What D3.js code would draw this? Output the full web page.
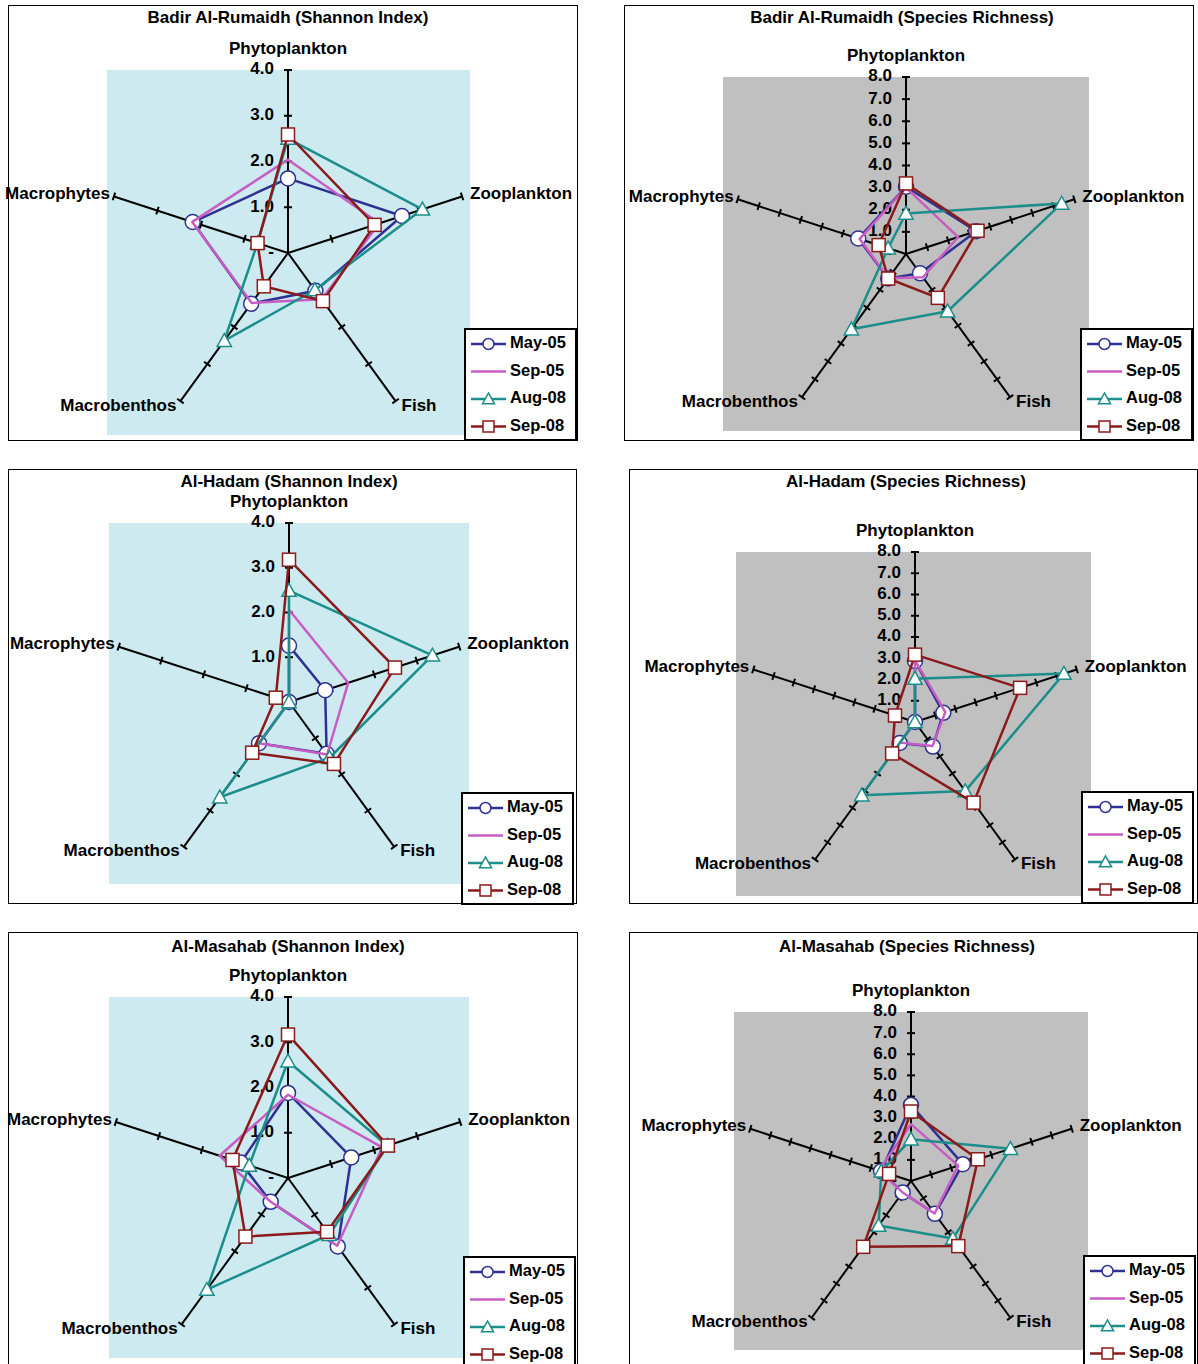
<!DOCTYPE html>
<html>
<head>
<meta charset="utf-8">
<script src="https://cdn.jsdelivr.net/npm/d3@7"></script>
<style>
  body { margin: 0; background: #fff; }
  svg text { font-family: "Liberation Sans", Arial, sans-serif; font-weight: bold; fill: #000; }
</style>
</head>
<body>
<div id="chart"></div>
<script>
// categories go clockwise from the top
var categories = ["Phytoplankton", "Zooplankton", "Fish", "Macrobenthos", "Macrophytes"];
var seriesNames = ["May-05", "Sep-05", "Aug-08", "Sep-08"];

// values per series, in category order
var badirShannon = [
  [1.63, 2.62, 1.02, 1.37, 2.19],
  [2.04, 2.10, 1.25, 1.35, 2.20],
  [2.50, 3.09, 1.00, 2.37, 0.70],
  [2.59, 1.99, 1.30, 0.90, 0.70]
];
var badirRichness = [
  [3.04, 3.34, 1.08, 1.37, 2.27],
  [3.00, 2.48, 1.30, 1.35, 2.20],
  [1.83, 7.40, 3.20, 4.20, 0.85],
  [3.19, 3.40, 2.45, 1.37, 1.30]
];
var hadamShannon = [
  [1.26, 0.85, 1.43, 1.14, 0.00],
  [2.06, 1.39, 1.45, 1.14, 0.00],
  [2.49, 3.37, 1.54, 2.63, 0.00],
  [3.18, 2.49, 1.71, 1.40, 0.31]
];
var hadamRichness = [
  [2.87, 1.40, 1.43, 1.22, 0.00],
  [2.90, 1.50, 1.40, 1.20, 0.00],
  [2.04, 7.37, 4.02, 4.26, 0.00],
  [3.17, 5.20, 4.69, 1.83, 0.99]
];
var masahabShannon = [
  [1.88, 1.47, 1.87, 0.65, 1.10],
  [1.84, 2.19, 1.85, 0.65, 1.59],
  [2.58, 2.31, 1.55, 3.05, 0.90],
  [3.17, 2.32, 1.47, 1.60, 1.29]
];
var masahabRichness = [
  [3.60, 2.58, 1.92, 0.67, 1.49],
  [2.69, 2.35, 1.90, 0.67, 1.60],
  [1.98, 4.95, 3.37, 2.61, 1.48],
  [3.29, 3.33, 3.81, 3.85, 1.09]
];

var shannonTicks = [0, 1, 2, 3, 4];
var richnessTicks = [0, 1, 2, 3, 4, 5, 6, 7, 8];

var colors = ["#2E3192", "#C75DC3", "#1B8E8A", "#8B1A1A"];
var markers = ["circle", null, "triangle", "square"];

// panel layout
var panels = [
  {title: "Badir Al-Rumaidh (Shannon Index)", data: badirShannon, ticks: shannonTicks, bg: "#CCEAF0",
   frame: [8, 5, 569, 435], cx: 288, cy: 253, r: 183, plot: [107, 70, 363, 365], legend: [464, 328], titleX: 288, titleY: 19},
  {title: "Badir Al-Rumaidh (Species Richness)", data: badirRichness, ticks: richnessTicks, bg: "#C0C0C0",
   frame: [624, 5, 569, 435], cx: 906, cy: 254, r: 177, plot: [723, 77, 366, 354], legend: [1080, 328], titleX: 902, titleY: 19},
  {title: "Al-Hadam (Shannon Index)", data: hadamShannon, ticks: shannonTicks, bg: "#CCEAF0",
   frame: [8, 469, 568, 434], cx: 289, cy: 702, r: 179, plot: [109, 523, 360, 361], legend: [461, 792], titleX: 289, titleY: 483},
  {title: "Al-Hadam (Species Richness)", data: hadamRichness, ticks: richnessTicks, bg: "#C0C0C0",
   frame: [629, 469, 568, 434], cx: 915, cy: 722, r: 170, plot: [736, 552, 355, 344], legend: [1081, 791], titleX: 906, titleY: 483},
  {title: "Al-Masahab (Shannon Index)", data: masahabShannon, ticks: shannonTicks, bg: "#CCEAF0",
   frame: [8, 932, 569, 440], cx: 288, cy: 1178, r: 181, plot: [109, 997, 360, 361], legend: [463, 1256], titleX: 288, titleY: 948},
  {title: "Al-Masahab (Species Richness)", data: masahabRichness, ticks: richnessTicks, bg: "#C0C0C0",
   frame: [629, 932, 568, 440], cx: 911, cy: 1181, r: 169, plot: [734, 1012, 354, 338], legend: [1083, 1255], titleX: 907, titleY: 948}
];

var svg = d3.select("#chart").append("svg")
    .attr("width", 1198)
    .attr("height", 1364);

var fmt = d3.format(".1f");

function drawMarker(g, type, x, y, color, size) {
  if (type === "circle") {
    g.append("circle").attr("cx", x).attr("cy", y).attr("r", size)
      .attr("fill", "#fff").attr("stroke", color).attr("stroke-width", 1.5);
  } else if (type === "square") {
    g.append("rect").attr("x", x - size).attr("y", y - size)
      .attr("width", size * 2).attr("height", size * 2)
      .attr("fill", "#fff").attr("stroke", color).attr("stroke-width", 1.5);
  } else if (type === "triangle") {
    var s = size * 1.1;
    g.append("path")
      .attr("d", "M" + x + "," + (y - s) + "L" + (x + s) + "," + (y + s * 0.8) + "L" + (x - s) + "," + (y + s * 0.8) + "Z")
      .attr("fill", "#fff").attr("stroke", color).attr("stroke-width", 1.5);
  }
}

panels.forEach(function(p) {
  var g = svg.append("g");
  var maxV = d3.max(p.ticks);

  var rScale = d3.scaleLinear().domain([0, maxV]).range([0, p.r]);
  var angle = d3.scaleLinear().domain([0, categories.length]).range([0, 2 * Math.PI]);

  function pt(i, v) {
    var a = angle(i);
    return [p.cx + rScale(v) * Math.sin(a), p.cy - rScale(v) * Math.cos(a)];
  }

  // frame
  g.append("rect")
    .attr("x", p.frame[0] + 0.5).attr("y", p.frame[1] + 0.5)
    .attr("width", p.frame[2]).attr("height", p.frame[3])
    .attr("fill", "#fff").attr("stroke", "#000").attr("stroke-width", 1);

  // plot area
  g.append("rect")
    .attr("x", p.plot[0]).attr("y", p.plot[1])
    .attr("width", p.plot[2]).attr("height", p.plot[3])
    .attr("fill", p.bg);

  g.append("text")
    .attr("x", p.titleX).attr("y", p.titleY)
    .attr("text-anchor", "middle").attr("dominant-baseline", "middle")
    .style("font-size", "17px")
    .text(p.title);

  // spokes and ticks
  categories.forEach(function(c, i) {
    var end = pt(i, maxV);
    g.append("line")
      .attr("x1", p.cx).attr("y1", p.cy).attr("x2", end[0]).attr("y2", end[1])
      .attr("stroke", "#000").attr("stroke-width", 2);
    var a = angle(i);
    var px = Math.cos(a) * 4, py = Math.sin(a) * 4;
    p.ticks.filter(function(t) { return t > 0; }).forEach(function(t) {
      var q = pt(i, t);
      g.append("line")
        .attr("x1", q[0] - px).attr("y1", q[1] - py)
        .attr("x2", q[0] + px).attr("y2", q[1] + py)
        .attr("stroke", "#000").attr("stroke-width", 2);
    });
  });

  // value labels on the top spoke
  p.ticks.forEach(function(t) {
    g.append("text")
      .attr("x", p.cx - 14).attr("y", p.cy - rScale(t))
      .attr("text-anchor", "end").attr("dominant-baseline", "middle")
      .style("font-size", "17px")
      .text(t === 0 ? "-" : fmt(t));
  });

  // category labels
  var labelPos = [
    {dx: 0, dy: -20, anchor: "middle"},
    {dx: 8, dy: -2, anchor: "start"},
    {dx: 6, dy: 5, anchor: "start"},
    {dx: -4, dy: 5, anchor: "end"},
    {dx: -4, dy: -2, anchor: "end"}
  ];
  categories.forEach(function(c, i) {
    var end = pt(i, maxV);
    g.append("text")
      .attr("x", end[0] + labelPos[i].dx).attr("y", end[1] + labelPos[i].dy)
      .attr("text-anchor", labelPos[i].anchor).attr("dominant-baseline", "middle")
      .style("font-size", "17px")
      .text(c);
  });

  // series
  var line = d3.lineRadial()
      .angle(function(d, i) { return angle(i); })
      .radius(function(d) { return rScale(d); })
      .curve(d3.curveLinearClosed);

  p.data.forEach(function(vals, s) {
    g.append("path")
      .datum(vals)
      .attr("transform", "translate(" + p.cx + "," + p.cy + ")")
      .attr("d", line)
      .attr("fill", "none")
      .attr("stroke", colors[s])
      .attr("stroke-width", 2.5)
      .attr("stroke-linejoin", "round");
    if (markers[s]) {
      vals.forEach(function(v, i) {
        var q = pt(i, v);
        drawMarker(g, markers[s], q[0], q[1], colors[s], markers[s] === "circle" ? 7.5 : 6.5);
      });
    }
  });

  // legend
  var lg = g.append("g").attr("transform", "translate(" + p.legend[0] + "," + p.legend[1] + ")");
  lg.append("rect")
    .attr("x", 1).attr("y", 1).attr("width", 111).attr("height", 111)
    .attr("fill", "#fff").attr("stroke", "#000").attr("stroke-width", 2);
  seriesNames.forEach(function(name, s) {
    var y = 16 + s * 27.5;
    lg.append("line")
      .attr("x1", 7).attr("x2", 42).attr("y1", y).attr("y2", y)
      .attr("stroke", colors[s]).attr("stroke-width", 2.5);
    if (markers[s]) drawMarker(lg, markers[s], 24.5, y, colors[s], 5.5);
    lg.append("text")
      .attr("x", 46).attr("y", y)
      .attr("dominant-baseline", "middle")
      .style("font-size", "16.5px")
      .text(name);
  });
});
</script>
</body>
</html>
